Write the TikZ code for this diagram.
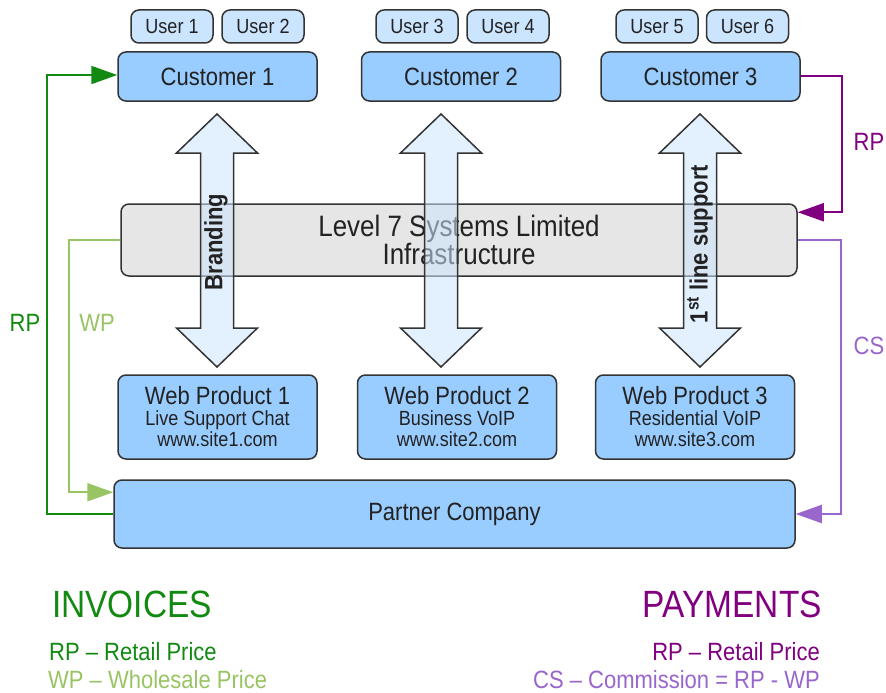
\documentclass[tikz,border=0pt]{standalone}
\usepackage{fontspec}
\setmainfont{Liberation Sans}[FakeStretch=0.88]
\usetikzlibrary{arrows.meta,calc}
\definecolor{custblue}{HTML}{99CCFF}
\definecolor{userblue}{HTML}{CCE5FF}
\definecolor{infragrey}{HTML}{E6E6E6}
\definecolor{edgecol}{HTML}{333333}
\definecolor{txtcol}{HTML}{222222}
\definecolor{rpgreen}{HTML}{128A12}
\definecolor{wpgreen}{HTML}{98C463}
\definecolor{rppurple}{HTML}{800080}
\definecolor{cspurple}{HTML}{9966CC}
\begin{document}
\begin{tikzpicture}[x=1pt,y=-1pt,
  box/.style={draw=edgecol, line width=1.5pt, rounded corners=8pt, inner sep=0pt, align=center, text=txtcol},
  userbox/.style={box, fill=userblue, minimum width=82pt, minimum height=33pt, font=\fontsize{20.5}{22}\selectfont},
  custbox/.style={box, fill=custblue, minimum width=199pt, minimum height=49pt, font=\fontsize{25}{27}\selectfont},
  webbox/.style={box, fill=custblue, minimum width=199pt, minimum height=84pt, font=\fontsize{20.5}{21}\selectfont},
  flow/.style={line width=2pt, -{Triangle[length=26pt,width=18pt]}},
  lbl/.style={inner sep=0pt, font=\fontsize{25}{27}\selectfont},
  dbl/.style={draw=edgecol, line width=1.5pt, fill=userblue, fill opacity=0.55},
  arrowtext/.style={inner sep=0pt, rotate=90, text=txtcol, font=\bfseries\fontsize{25}{27}\selectfont}
]
\useasboundingbox (0,0) rectangle (886,693);

% users
\node[userbox] (u1) at (172,26.5) {User 1};
\node[userbox] (u2) at (263,26.5) {User 2};
\node[userbox] (u3) at (417,26.5) {User 3};
\node[userbox] (u4) at (508,26.5) {User 4};
\node[userbox] (u5) at (657,26.5) {User 5};
\node[userbox] (u6) at (747.5,26.5) {User 6};

% customers
\node[custbox] (c1) at (217.5,76.5) {Customer 1};
\node[custbox] (c2) at (461,76.5) {Customer 2};
\node[custbox] (c3) at (700.5,76.5) {Customer 3};

% infrastructure
\node[box, fill=infragrey, minimum width=676pt, minimum height=72pt, font=\fontsize{29.5}{28}\selectfont] (inf) at (459,240) {Level 7 Systems Limited\\Infrastructure};

% web products
\node[webbox] (w1) at (217.5,417) {{\fontsize{25}{21}\selectfont Web Product 1}\\Live Support Chat\\www.site1.com};
\node[webbox] (w2) at (457,417) {{\fontsize{25}{21}\selectfont Web Product 2}\\Business VoIP\\www.site2.com};
\node[webbox] (w3) at (695,417) {{\fontsize{25}{21}\selectfont Web Product 3}\\Residential VoIP\\www.site3.com};

% partner
\node[box, fill=custblue, minimum width=681pt, minimum height=68pt, font=\fontsize{25}{27}\selectfont] (pc) at (454.5,514) {Partner Company};

% double arrows
\foreach \X/\nm in {217/a1, 441/a2, 700/a3}{
  \draw[dbl] (\X,114) -- (\X+40.5,153) -- (\X+16.5,153) -- (\X+16.5,328) -- (\X+40.5,328)
    -- (\X,367) -- (\X-40.5,328) -- (\X-16.5,328) -- (\X-16.5,153) -- (\X-40.5,153) -- cycle;
  \coordinate (\nm) at (\X,242);
}
\node[arrowtext] (t1) at ($(a1)+(-1,0)$) {Branding};
\node[arrowtext] (t3) at ($(a3)+(0,2)$) {1\textsuperscript{st} line support};

% flows
\draw[flow, rpgreen] (pc.west) -- ++(-66,0) |- ($(c1.west)+(0,-1.5)$);
\draw[flow, wpgreen] (inf.west) -- ++(-51,0) |- ($(pc.north west)+(0,13)$);
\draw[flow, rppurple] (c3.east) -- ++(41,0) |- ($(inf.north east)+(0,9)$);
\draw[flow, cspurple] (inf.east) -- ++(43,0) |- (pc.east);

% flow labels
\node[lbl, text=rpgreen] (lrp) at (25,323) {RP};
\node[lbl, text=wpgreen] (lwp) at (97,323) {WP};
\node[lbl, text=rppurple] (rrp) at (869,142) {RP};
\node[lbl, text=cspurple] (rcs) at (869,346) {CS};

% legend
\node[inner sep=0pt, anchor=base west, text=rpgreen, font=\fontsize{38}{40}\selectfont] (inv) at (52,617) {INVOICES};
\node[inner sep=0pt, anchor=base west, text=rpgreen, font=\fontsize{25}{27}\selectfont] (inv1) at (49,660) {RP – Retail Price};
\node[inner sep=0pt, anchor=base west, text=wpgreen, font=\fontsize{25}{27}\selectfont] (inv2) at (48,688) {WP – Wholesale Price};
\node[inner sep=0pt, anchor=base east, text=rppurple, font=\fontsize{38}{40}\selectfont] (pay) at (822,617) {PAYMENTS};
\node[inner sep=0pt, anchor=base east, text=rppurple, font=\fontsize{25}{27}\selectfont] (pay1) at (820,660) {RP – Retail Price};
\node[inner sep=0pt, anchor=base east, text=cspurple, font=\fontsize{25}{27}\selectfont] (pay2) at (820,688) {CS – Commission = RP - WP};
\end{tikzpicture}
\end{document}
